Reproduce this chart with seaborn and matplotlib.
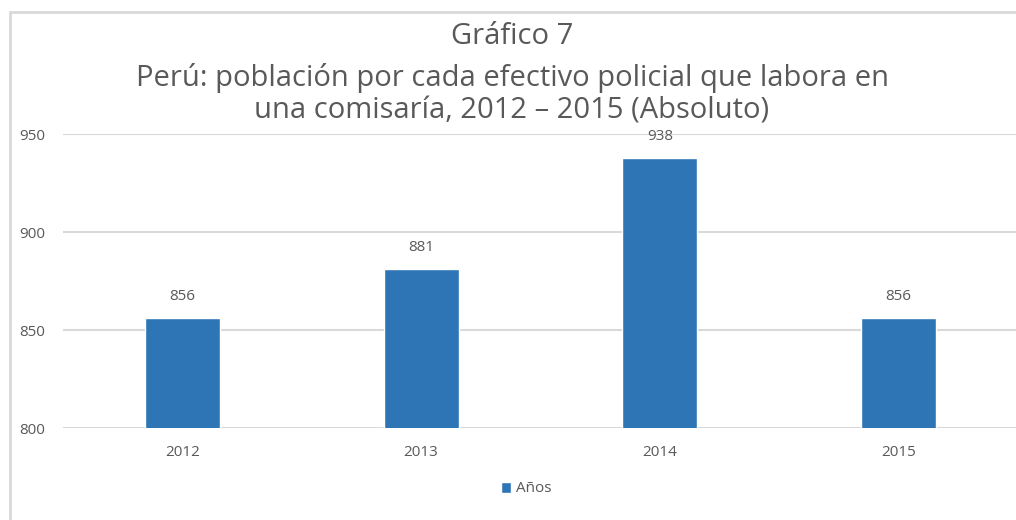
import matplotlib
matplotlib.use("Agg")
import matplotlib.pyplot as plt
import seaborn as sns
import pandas as pd
from matplotlib.patches import Rectangle

years = ["2012", "2013", "2014", "2015"]
values = [856, 881, 938, 856]
series_name = "Años"
yticks = [800, 850, 900, 950]
title_lines = ["Gráfico 7",
               "Perú: población por cada efectivo policial que labora en",
               "una comisaría, 2012 – 2015 (Absoluto)"]

sns.set_theme(style="white")
plt.rcParams['font.family'] = ['Open Sans', 'DejaVu Sans']

W, H = 1016, 520
fig = plt.figure(figsize=(W / 100, H / 100), dpi=100)
fig.patch.set_facecolor("white")

# chart frame (light grey)
fig.patches.append(Rectangle((10 / W, -0.2), 2.0, (H - 12) / H + 0.2,
                             transform=fig.transFigure, fill=False,
                             edgecolor="#D9D9D9", linewidth=2))

ax = fig.add_axes([63 / W, (H - 428) / H, 955 / W, (428 - 134) / H])

df = pd.DataFrame({"year": years, "value": values, "serie": [series_name] * len(years)})
sns.barplot(data=df, x="year", y="value", hue="serie", palette=["#2E75B6"],
            saturation=1, width=0.314, dodge=False, ax=ax, legend=True)

ax.set_ylim(800, 950)
ax.set_yticks(yticks)
ax.set_xlim(-0.5, 3.5)
ax.grid(axis="y", color="#D9D9D9", linewidth=1.5)
ax.set_axisbelow(True)
for s in ax.spines.values():
    s.set_visible(False)
ax.set_xlabel("")
ax.set_ylabel("")
ax.tick_params(axis="both", length=0, labelsize=11, colors="#595959")
ax.tick_params(axis="x", pad=12)
ax.tick_params(axis="y", pad=13)

for c in ax.containers:
    ax.bar_label(c, fmt="%d", padding=10, fontsize=11, color="#595959")

ax.legend(loc="center", bbox_to_anchor=(526 / W, (H - 489) / H),
          bbox_transform=fig.transFigure, frameon=False, fontsize=11,
          handlelength=0.7, handleheight=0.7, handletextpad=0.3,
          labelcolor="#595959")

ys = [37, 78, 111]
for t, y in zip(title_lines, ys):
    fig.text(512 / W, (H - y) / H, t, ha="center", va="center",
             fontsize=21, color="#595959")

fig.savefig("out.png", dpi=100)
